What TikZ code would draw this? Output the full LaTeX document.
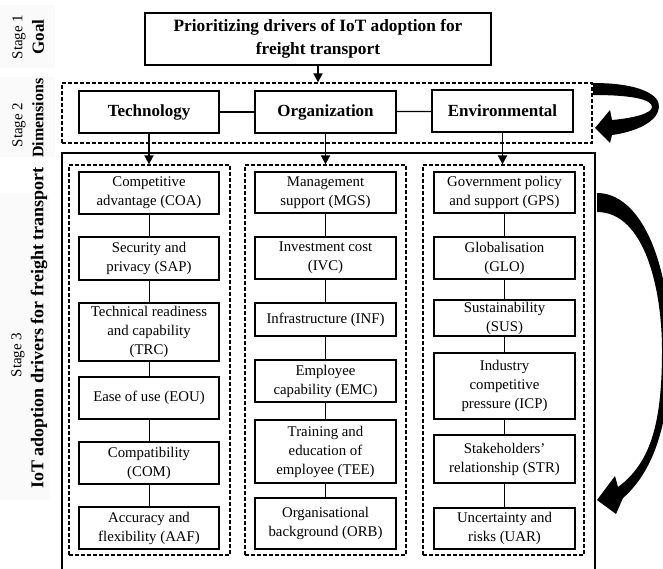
\documentclass[tikz,border=0pt]{standalone}
\usepackage{fontspec}
\setmainfont{Liberation Serif}
\usetikzlibrary{arrows.meta}
\tikzset{
  bx/.style={draw, line width=1.3pt, align=center, inner sep=0pt,
    font=\fontsize{14.8}{19}\selectfont},
  dimbx/.style={draw, line width=1.3pt, align=center, inner sep=0pt,
    minimum width=140pt, minimum height=42pt,
    font=\fontsize{17}{21}\selectfont\bfseries},
  dashbox/.style={draw, dash pattern=on 4pt off 2pt, line width=1.3pt, inner sep=0pt},
  arr/.style={line width=1.8pt, -{Triangle[length=9pt,width=9pt]}},
  link/.style={line width=1pt},
  lab/.style={rotate=90, inner sep=0pt, font=\fontsize{15}{18}\selectfont},
  blab/.style={rotate=90, inner sep=0pt, font=\fontsize{17}{20}\selectfont\bfseries},
  panel/.style={fill=black!2, draw=none}
}
\begin{document}
\begin{tikzpicture}[x=1pt,y=-1pt]
\useasboundingbox (0,0) rectangle (663,569);
\clip (0,0) rectangle (663,569);
\fill[white] (0,0) rectangle (663,569);
% left panels
\fill[panel] (0,5) rectangle (55,68);
\fill[panel] (0,77) rectangle (55,157);
\fill[panel] (0,193) rectangle (50,500);
\node[lab] (s1) at (19,37) {Stage 1};
\node[blab] (s1b) at (38,37) {Goal};
\node[lab] (s2) at (19,125) {Stage 2};
\node[blab, font=\fontsize{16}{20}\selectfont\bfseries] (s2b) at (38,118) {Dimensions};
\node[lab] (s3) at (18,355) {Stage 3};
\node[blab, font=\fontsize{18}{20}\selectfont\bfseries] (s3b) at (39,328) {IoT adoption drivers for freight transport};

% goal
\node[draw, line width=1.3pt, align=center, inner sep=0pt, minimum width=346pt, minimum height=52pt,
  font=\fontsize{17.3}{23}\selectfont\bfseries] (goal) at (318,39)
  {Prioritizing drivers of IoT adoption for\\freight transport};

% dimensions
\node[dashbox, minimum width=530pt, minimum height=60pt] (dims) at (327,113) {};
\node[dimbx] (tech) at (149,112) {Technology};
\node[dimbx, minimum width=141pt] (org) at (325.5,112) {Organization};
\node[dimbx, minimum width=141pt] (env) at (502.5,111) {Environmental};
\draw[link, line width=1.3pt] (tech) -- (org);
\draw[link, line width=1.3pt] (org) -- (env);
\draw[arr] (goal.south) -- (goal.south |- dims.north);

% stage 3 frame
\draw[line width=1.3pt] (62,575) -- (62,153) -- (595,153) -- (595,575);

% columns
\node[dashbox, minimum width=161pt, minimum height=390pt] (c1) at (149.5,360) {};
\node[dashbox, minimum width=161pt, minimum height=390pt] (c2) at (325.5,360) {};
\node[dashbox, minimum width=161pt, minimum height=390pt] (c3) at (503.5,360) {};
\draw[arr] (tech.south) -- (tech.south |- c1.north);
\draw[arr] (org.south) -- (org.south |- c2.north);
\draw[arr] (env.south) -- (env.south |- c3.north);

% column 1
\begin{scope}[every node/.append style={bx, minimum width=140pt}]
\node[minimum height=42pt] (coa) at (149,193) {Competitive\\advantage (COA)};
\node[minimum height=43pt] (sap) at (149,258.5) {Security and\\privacy (SAP)};
\node[minimum height=58pt] (trc) at (149,332) {Technical readiness\\and capability\\(TRC)};
\node[minimum height=42pt] (eou) at (149,398) {Ease of use (EOU)};
\node[minimum height=42pt] (com) at (149,463) {Compatibility\\(COM)};
\node[minimum height=42pt] (aaf) at (149,528) {Accuracy and\\flexibility (AAF)};
\end{scope}
\draw[link] (coa) -- (sap) -- (trc) -- (eou) -- (com) -- (aaf);

% column 2
\begin{scope}[every node/.append style={bx, minimum width=141pt}]
\node[minimum height=41pt] (mgs) at (325.5,192.5) {Management\\support (MGS)};
\node[minimum height=42pt] (ivc) at (325.5,258) {Investment cost\\(IVC)};
\node[minimum height=33pt] (inf) at (325.5,319.5) {Infrastructure (INF)};
\node[minimum height=42pt] (emc) at (325.5,381) {Employee\\capability (EMC)};
\node[minimum height=63pt] (tee) at (325.5,451.5) {Training and\\education of\\employee (TEE)};
\node[minimum height=51pt] (orb) at (325.5,523.5) {Organisational\\background (ORB)};
\end{scope}
\draw[link] (mgs) -- (ivc) -- (inf) -- (emc) -- (tee) -- (orb);

% column 3
\begin{scope}[every node/.append style={bx, minimum width=141pt}]
\node[minimum height=41pt] (gps) at (504.5,192.5) {Government policy\\and support (GPS)};
\node[minimum height=42pt] (glo) at (504.5,258) {Globalisation\\(GLO)};
\node[minimum height=36pt] (sus) at (504.5,318) {Sustainability\\(SUS)};
\node[minimum height=66pt] (icp) at (504.5,386) {Industry\\competitive\\pressure (ICP)};
\node[minimum height=48pt] (str) at (504.5,459) {Stakeholders’\\relationship (STR)};
\node[minimum height=41pt] (uar) at (504.5,528.5) {Uncertainty and\\risks (UAR)};
\end{scope}
\draw[link] (gps) -- (glo) -- (sus) -- (icp) -- (str) -- (uar);

% loop arrow stage 2
\fill (593,83) .. controls (640,83) and (660,95) .. (659,107)
  .. controls (658,122) and (635,132) .. (612,135) -- (610,143) -- (595,128)
  -- (610,110) -- (612,120) .. controls (635,118) and (652,113) .. (652,107)
  .. controls (652,100) and (635,95) .. (593,95) -- cycle;

% curved arrow stage 3
\fill (597,193) .. controls (640,193) and (670,260) .. (670,350)
  .. controls (670,420) and (655,470) .. (623,498) -- (616,514) -- (597,500)
  -- (615,476) -- (618,487) .. controls (652,462) and (662,420) .. (662,350)
  .. controls (662,290) and (645,212) .. (597,212) -- cycle;
\end{tikzpicture}
\end{document}
